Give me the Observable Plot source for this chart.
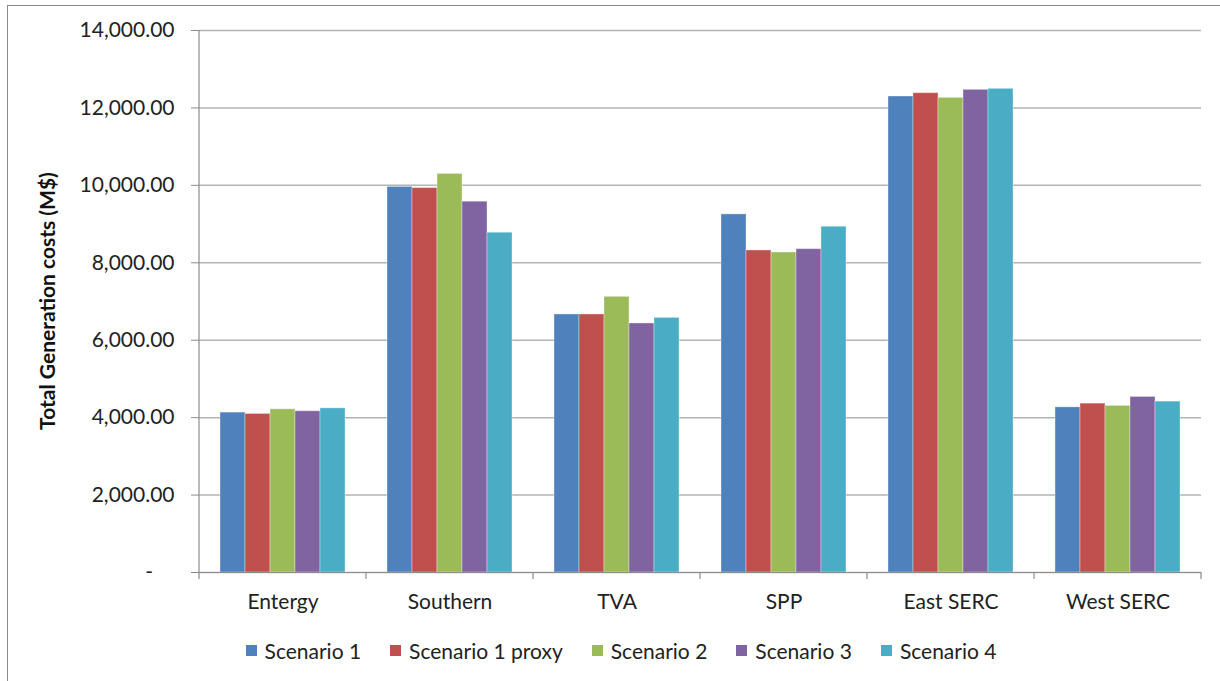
<!DOCTYPE html>
<html>
<head>
<meta charset="utf-8">
<script src="https://cdn.jsdelivr.net/npm/d3@7"></script>
<script src="https://cdn.jsdelivr.net/npm/@observablehq/plot@0.6"></script>
<style>
  body { margin: 0; background: #fff; font-family: Lato, "Open Sans", sans-serif; }
  #wrap { position: relative; width: 1220px; height: 681px; overflow: hidden; }
  #frame { position: absolute; left: 7px; top: 5px; width: 1240px; height: 700px;
           border-left: 1.5px solid #8c8c8c; border-top: 1.5px solid #8c8c8c; }
  #chart { position: absolute; left: 0; top: 0; }
  #legend { position: absolute; left: 0; top: 638px; width: 1220px; display: flex;
            justify-content: center; gap: 29px; font-size: 21px; color: #222; padding-left: 22px; box-sizing: border-box; }
  #legend .item { display: flex; align-items: center; gap: 8px; }
  #legend .sw { width: 11px; height: 11px; display: inline-block; }
</style>
</head>
<body>
<div id="wrap">
  <div id="frame"></div>
  <div id="chart"></div>
  <div id="legend"></div>
</div>
<script>
const regions = ["Entergy", "Southern", "TVA", "SPP", "East SERC", "West SERC"];
const scenarios = ["Scenario 1", "Scenario 1 proxy", "Scenario 2", "Scenario 3", "Scenario 4"];
const colors = ["#4F81BD", "#C0504D", "#9BBB59", "#8064A2", "#4BACC6"];
const scenario1      = [4130, 9960, 6665, 9250, 12295, 4266];
const scenario1proxy = [4095, 9930, 6665, 8318, 12381, 4362];
const scenario2      = [4215, 10295, 7120, 8266, 12260, 4303];
const scenario3      = [4165, 9578, 6432, 8352, 12467, 4535];
const scenario4      = [4240, 8776, 6577, 8931, 12493, 4414];
const yTicks = [0, 2000, 4000, 6000, 8000, 10000, 12000, 14000];
const yTitle = "Total Generation costs (M$)";

const series = [scenario1, scenario1proxy, scenario2, scenario3, scenario4];
const data = [];
regions.forEach((r, i) => scenarios.forEach((s, j) => data.push({region: r, scenario: s, value: series[j][i]})));

const fmt = d => d === 0 ? "-\u00a0\u00a0\u00a0\u00a0" : d3.format(",.2f")(d);

const W = 1220, H = 630;
const plot = Plot.plot({
  width: W, height: H,
  marginTop: 30, marginBottom: 58, marginLeft: 197, marginRight: 18,
  style: { fontFamily: "Lato, 'Open Sans', sans-serif", color: "#222", background: "transparent" },
  fx: { domain: regions, padding: 0, label: null },
  x: { domain: scenarios, paddingInner: 0, paddingOuter: 0.746, axis: null },
  y: { domain: [0, 14000], label: null },
  color: { domain: scenarios, range: colors },
  marks: [
    Plot.gridY(yTicks, { stroke: "#b3b3b3", strokeOpacity: 1, strokeWidth: 1.5 }),
    Plot.barY(data, { fx: "region", x: "scenario", y: "value", fill: "scenario", stroke: "#ffffff", strokeOpacity: 0.35, strokeWidth: 1, inset: 0 }),
    Plot.ruleY([0], { stroke: "#8c8c8c", strokeWidth: 1.2 }),
    Plot.axisY({ ticks: yTicks, tickFormat: fmt, tickSize: 8, tickPadding: 17, fontSize: 21, stroke: "#8c8c8c", label: null }),
    Plot.axisFx({ anchor: "bottom", tickSize: 0, tickPadding: 22, fontSize: 21, label: null })
  ]
});
document.getElementById("chart").appendChild(plot);

// axis line & category separators drawn from Plot's own scales
const fx = plot.scale("fx"), y = plot.scale("y");
const svg = d3.select(plot);
const y0 = y.apply(0), yTop = y.apply(14000);
const bounds = regions.map(r => fx.apply(r));
bounds.push(fx.apply(regions[regions.length - 1]) + fx.bandwidth);
const g = svg.append("g").attr("stroke", "#8c8c8c").attr("stroke-width", 1.2);
bounds.forEach((bx, i) => {
  g.append("line").attr("x1", bx).attr("x2", bx)
    .attr("y1", i === 0 ? yTop : y0).attr("y2", y0 + 7);
});
svg.append("text")
  .attr("transform", `translate(50,${(y0 + yTop) / 2}) rotate(-90)`)
  .attr("text-anchor", "middle").attr("dominant-baseline", "middle")
  .attr("font-weight", "bold").attr("font-size", 21).attr("fill", "#111")
  .text(yTitle);

// legend
const leg = d3.select("#legend");
scenarios.forEach((s, i) => {
  const it = leg.append("div").attr("class", "item");
  it.append("span").attr("class", "sw").style("background", colors[i]);
  it.append("span").text(s);
});
</script>
</body>
</html>
